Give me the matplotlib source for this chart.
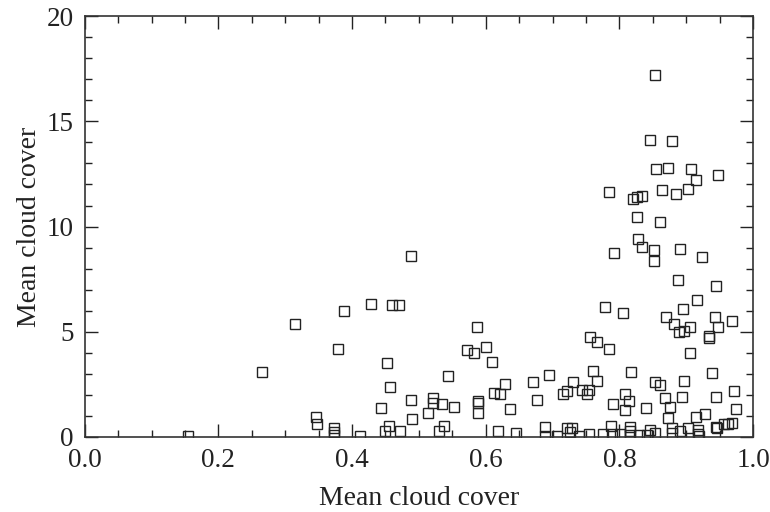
import matplotlib
matplotlib.use("Agg")
import matplotlib.pyplot as plt
from matplotlib.ticker import MultipleLocator

x_cover = [
    0.155, 0.266, 0.314, 0.346, 0.348, 0.373, 0.373, 0.373, 0.379, 0.388,
    0.412, 0.428, 0.444, 0.450, 0.453, 0.455, 0.457, 0.460, 0.471, 0.472,
    0.488, 0.488, 0.490, 0.513, 0.521, 0.521, 0.530, 0.534, 0.537, 0.543,
    0.553, 0.572, 0.583, 0.587, 0.589, 0.589, 0.589, 0.600, 0.610, 0.613,
    0.618, 0.622, 0.629, 0.637, 0.645, 0.670, 0.677, 0.688, 0.689, 0.695,
    0.706, 0.715, 0.721, 0.722, 0.726, 0.729, 0.731, 0.739, 0.744, 0.752,
    0.755, 0.755, 0.756, 0.761, 0.767, 0.767, 0.776, 0.779, 0.784, 0.784,
    0.788, 0.789, 0.791, 0.792, 0.801, 0.806, 0.808, 0.809, 0.815, 0.816,
    0.816, 0.816, 0.818, 0.821, 0.826, 0.826, 0.828, 0.829, 0.834, 0.834,
    0.840, 0.846, 0.846, 0.852, 0.852, 0.853, 0.853, 0.854, 0.855, 0.861,
    0.861, 0.864, 0.868, 0.870, 0.872, 0.873, 0.876, 0.878, 0.878, 0.879,
    0.882, 0.884, 0.887, 0.889, 0.891, 0.891, 0.893, 0.895, 0.897, 0.897,
    0.903, 0.903, 0.905, 0.905, 0.907, 0.914, 0.914, 0.916, 0.917, 0.918,
    0.924, 0.928, 0.934, 0.934, 0.939, 0.943, 0.945, 0.945, 0.945, 0.946,
    0.947, 0.947, 0.956, 0.962, 0.968, 0.968, 0.972, 0.974, 0.841, 0.919,
]
y_cover = [
    0.05, 3.10, 5.35, 0.95, 0.60, 0.42, 0.25, 0.08, 4.18, 6.00,
    0.05, 6.32, 1.38, 0.29, 3.52, 0.54, 2.36, 6.26, 6.26, 0.29,
    1.74, 8.60, 0.84, 1.14, 1.84, 1.63, 0.29, 1.55, 0.54, 2.90,
    1.44, 4.12, 4.00, 5.23, 1.70, 1.60, 1.12, 4.30, 3.58, 2.10,
    0.29, 2.04, 2.53, 1.32, 0.20, 2.60, 1.74, 0.47, 0.06, 2.96,
    0.06, 2.04, 2.19, 0.41, 0.22, 0.41, 2.60, 0.06, 2.23, 2.04,
    2.23, 0.14, 4.74, 3.15, 4.50, 2.66, 0.14, 6.20, 4.18, 11.63,
    0.54, 0.14, 1.57, 8.74, 0.14, 5.89, 2.04, 1.30, 1.71, 0.49,
    0.29, 0.10, 3.09, 11.31, 11.42, 10.45, 9.42, 0.10, 11.43, 9.04,
    1.40, 0.33, 14.10, 8.87, 8.38, 17.20, 2.60, 0.17, 12.72, 2.47,
    10.21, 11.73, 1.84, 5.71, 12.77, 0.89, 1.44, 14.05, 0.41, 0.18,
    5.35, 11.54, 7.46, 4.97, 0.30, 8.93, 1.91, 6.07, 5.04, 2.66,
    0.41, 11.80, 5.21, 4.00, 12.72, 12.22, 0.93, 6.49, 0.33, 0.14,
    8.57, 1.07, 4.80, 4.70, 3.02, 5.71, 7.17, 1.89, 0.49, 0.41,
    5.21, 12.46, 0.60, 0.62, 0.65, 5.51, 2.19, 1.33, 0.08, 0.05,
]

x_ticks = [0.0, 0.2, 0.4, 0.6, 0.8, 1.0]
x_ticklabels = ["0.0", "0.2", "0.4", "0.6", "0.8", "1.0"]
y_ticks = [0, 5, 10, 15, 20]
y_ticklabels = ["0", "5", "10", "15", "20"]

plt.rcParams['font.family'] = ['Liberation Serif', 'DejaVu Serif']

fig = plt.figure(figsize=(7.7, 5.12), dpi=100)
ax = fig.add_axes([0.110, 0.1465, 0.868, 0.822])

ax.plot(x_cover, y_cover, linestyle='none', marker='s', markersize=6.8,
        markerfacecolor='none', markeredgecolor='#222222', markeredgewidth=1.0,
        clip_on=True)

ax.set_xlim(0.0, 1.0)
ax.set_ylim(0, 20)
ax.set_xticks(x_ticks)
ax.set_xticklabels(x_ticklabels)
ax.set_yticks(y_ticks)
ax.set_yticklabels(y_ticklabels)
ax.xaxis.set_minor_locator(MultipleLocator(0.05))
ax.yaxis.set_minor_locator(MultipleLocator(1))
ax.tick_params(which='both', direction='in', top=True, right=True,
               labelsize=19.5, colors='#222222')
ax.tick_params(which='major', length=9.5, width=1.0, pad=8)
ax.tick_params(which='minor', length=5, width=1.0)
for s in ax.spines.values():
    s.set_linewidth(1.2)
    s.set_color('#333333')

ax.set_xlabel("Mean cloud cover", fontsize=20, color='#222222', labelpad=9)
ax.set_ylabel("Mean cloud cover", fontsize=20, color='#222222', labelpad=3)

fig.savefig("out.png", dpi=100)
